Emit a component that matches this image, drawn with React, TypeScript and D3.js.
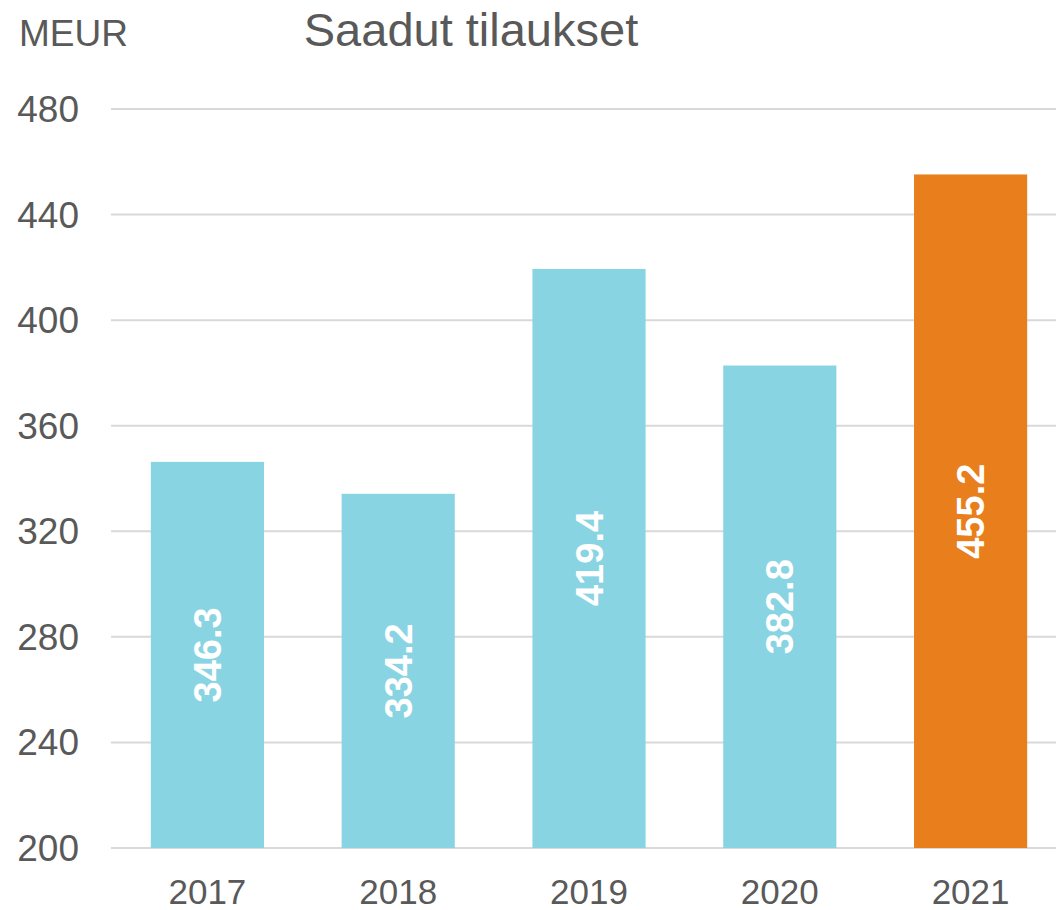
import React from "react";
import * as d3 from "d3";

const categories = ["2017", "2018", "2019", "2020", "2021"];
const values = [346.3, 334.2, 419.4, 382.8, 455.2];
const barColors = ["#89D4E3", "#89D4E3", "#89D4E3", "#89D4E3", "#E87E1C"];
const yTicks = [200, 240, 280, 320, 360, 400, 440, 480];

const W = 1056;
const H = 910;
const FONT = "Liberation Sans, Arial, sans-serif";
const GRAY = "#595959";

export default function App() {
  const y = d3.scaleLinear().domain([200, 480]).range([848, 109]);
  const x = d3.scaleBand<string>().domain(categories).range([112, 1066]).paddingInner(0.407).paddingOuter(0.2035);
  const labelFs = 38;

  return (
    <svg width={W} height={H} style={{ position: "absolute", left: 0, top: 0, background: "#fff" }}>
      <text x={19} y={46} fontFamily={FONT} fontSize={37} fill={GRAY}>MEUR</text>
      <text x={471} y={46} textAnchor="middle" fontFamily={FONT} fontSize={47} fill={GRAY}>Saadut tilaukset</text>
      {yTicks.map((t) => (
        <g key={t}>
          <line x1={111} x2={1056} y1={y(t)} y2={y(t)} stroke="#D9D9D9" strokeWidth={2} />
          <text x={79} y={y(t) + 13} textAnchor="end" fontFamily={FONT} fontSize={37} fill={GRAY}>{t}</text>
        </g>
      ))}
      {categories.map((c, i) => {
        const bx = x(c)!;
        const bw = x.bandwidth();
        const top = y(values[i]);
        const cx = bx + bw / 2;
        const cy = (top + y(200)) / 2;
        return (
          <g key={c}>
            <rect x={bx} y={top} width={bw} height={y(200) - top} fill={barColors[i]} />
            <text
              transform={`translate(${cx + labelFs * 0.358},${cy}) rotate(-90)`}
              textAnchor="middle"
              fontFamily={FONT}
              fontWeight="bold"
              fontSize={labelFs}
              fill="#fff"
            >
              {values[i].toFixed(1)}
            </text>
            <text x={cx} y={904} textAnchor="middle" fontFamily={FONT} fontSize={35} fill={GRAY}>{c}</text>
          </g>
        );
      })}
    </svg>
  );
}
